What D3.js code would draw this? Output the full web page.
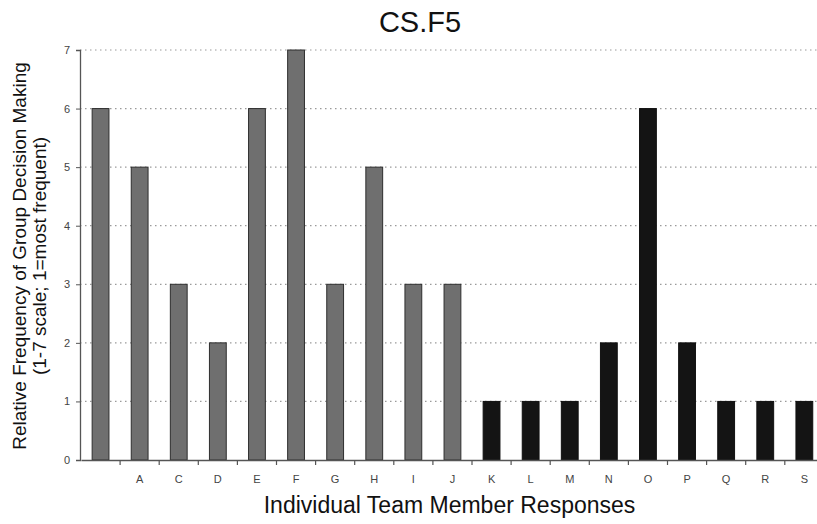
<!DOCTYPE html>
<html><head><meta charset="utf-8">
<script src="https://cdn.jsdelivr.net/npm/d3@7"></script>
<style>body{margin:0;background:#fff}svg{display:block}</style>
</head><body>
<svg id="c" width="817" height="524"></svg>
<script>
const categories = ["", "A", "C", "D", "E", "F", "G", "H", "I", "J", "K", "L", "M", "N", "O", "P", "Q", "R", "S"];
const values = [6, 5, 3, 2, 6, 7, 3, 5, 3, 3, 1, 1, 1, 2, 6, 2, 1, 1, 1];
const groups = ["g","g","g","g","g","g","g","g","g","g","b","b","b","b","b","b","b","b","b"];
const yTicks = [0, 1, 2, 3, 4, 5, 6, 7];

const svg = d3.select("#c");
const x0 = 81, step = 39.1;
const x = d3.scaleBand().domain(categories.map((c,i)=>i)).range([x0, x0 + step*categories.length]).padding(0);
const y = d3.scaleLinear().domain([0, 7]).range([460, 50]);

// gridlines
svg.append("g").selectAll("line").data(yTicks.filter(d=>d>0)).join("line")
  .attr("x1", 80).attr("x2", 817).attr("y1", d=>y(d)).attr("y2", d=>y(d))
  .attr("stroke", "#9a9a9a").attr("stroke-width", 1.2).attr("stroke-dasharray", "1.5,3.5");

// bars
const bw = step*0.43;
svg.append("g").selectAll("rect").data(values).join("rect")
  .attr("x", (d,i)=>x(i) + x.bandwidth()/2 - bw/2)
  .attr("width", bw)
  .attr("y", d=>y(d))
  .attr("height", d=>y(0)-y(d))
  .attr("fill", (d,i)=>groups[i]==="g" ? "#6f6f6f" : "#141414")
  .attr("stroke", (d,i)=>groups[i]==="g" ? "#2e2e2e" : "#101010")
  .attr("stroke-width", 1);

// y axis
const ya = svg.append("g").attr("transform","translate(80,0)")
  .call(d3.axisLeft(y).tickValues(yTicks).tickSize(4).tickPadding(6).tickFormat(d3.format("d")));
ya.select(".domain").attr("stroke","#555").attr("stroke-width",1.3);
ya.selectAll(".tick line").attr("stroke","#555");
ya.selectAll("text").attr("font-family","Liberation Sans, Arial, sans-serif").attr("font-size",11).attr("fill","#444");

// x axis
const xa = svg.append("g").attr("transform","translate(0,460)")
  .call(d3.axisBottom(x).tickSize(0).tickFormat(""));
xa.select(".domain").attr("stroke","#555").attr("stroke-width",1.3);
// boundary ticks
svg.append("g").selectAll("line").data(categories.map((c,i)=>i).slice(1)).join("line")
  .attr("x1", d=>x(d)).attr("x2", d=>x(d)).attr("y1", 460).attr("y2", 465)
  .attr("stroke","#555").attr("stroke-width",1.2);
// labels
svg.append("g").selectAll("text").data(categories).join("text")
  .attr("x", (d,i)=>x(i) + x.bandwidth()/2)
  .attr("y", 483)
  .attr("text-anchor","middle")
  .attr("font-family","Liberation Sans, Arial, sans-serif").attr("font-size",11).attr("fill","#444")
  .text(d=>d);

// title
svg.append("text").attr("x",420).attr("y",32).attr("text-anchor","middle")
  .attr("font-family","Liberation Sans, Arial, sans-serif").attr("font-size",29).attr("fill","#111").text("CS.F5");

// x title
svg.append("text").attr("x",449.5).attr("y",513).attr("text-anchor","middle")
  .attr("font-family","Liberation Sans, Arial, sans-serif").attr("font-size",23).attr("fill","#111").text("Individual Team Member Responses");

// y title
const yt = svg.append("text").attr("transform","translate(0,256) rotate(-90)")
  .attr("text-anchor","middle").attr("font-family","Liberation Sans, Arial, sans-serif").attr("font-size",19).attr("fill","#111");
yt.append("tspan").attr("x",0).attr("y",26).text("Relative Frequency of Group Decision Making");
yt.append("tspan").attr("x",0).attr("y",45.5).text("(1-7 scale; 1=most frequent)");
</script>
</body></html>
